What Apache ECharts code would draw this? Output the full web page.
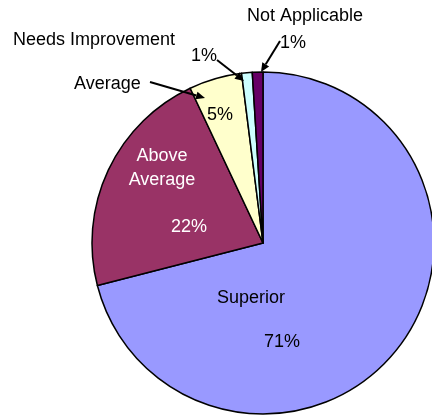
<!DOCTYPE html>
<html>
<head>
<meta charset="utf-8">
<script src="https://cdn.jsdelivr.net/npm/echarts@6/dist/echarts.min.js"></script>
<style>
  html, body { margin: 0; padding: 0; background: #fff; }
  #chart { width: 432px; height: 417px; }
</style>
</head>
<body>
<div id="chart"></div>
<script>
// Rating distribution
const categories = ['Superior', 'Above Average', 'Average', 'Needs Improvement', 'Not Applicable'];
const values = [71, 22, 5, 1, 1];
const sliceColors = ['#9999FF', '#993366', '#FFFFCC', '#CCFFFF', '#660066'];

const FONT = '"Liberation Sans", Arial, sans-serif';
const pct = i => values[i] + '%';

function txt(str, x, y, opts) {
  opts = opts || {};
  return {
    type: 'text', x: x, y: y, z: 10,
    style: {
      text: str, fill: opts.color || '#000',
      font: '18px ' + FONT,
      align: opts.align || 'center', verticalAlign: 'middle',
      lineHeight: opts.lineHeight || 20
    }
  };
}

// Leader line with a filled arrowhead at the end point
function arrow(x1, y1, x2, y2) {
  const a = Math.atan2(y2 - y1, x2 - x1);
  const L = 9, W = 4;
  const bx = x2 - L * Math.cos(a), by = y2 - L * Math.sin(a);
  const px = -Math.sin(a) * W, py = Math.cos(a) * W;
  return [
    { type: 'line', z: 10, shape: { x1: x1, y1: y1, x2: bx, y2: by },
      style: { stroke: '#000', lineWidth: 2 } },
    { type: 'polygon', z: 10,
      shape: { points: [[x2, y2], [bx + px, by + py], [bx - px, by - py]] },
      style: { fill: '#000' } }
  ];
}

const chart = echarts.init(document.getElementById('chart'));
chart.setOption({
  animation: false,
  backgroundColor: '#fff',
  series: [{
    type: 'pie',
    center: [263, 243],
    radius: 171,
    startAngle: 90,
    clockwise: true,
    label: { show: false },
    labelLine: { show: false },
    itemStyle: { borderColor: '#000', borderWidth: 1.5 },
    emphasis: { disabled: true },
    data: categories.map((c, i) => ({
      name: c, value: values[i], itemStyle: { color: sliceColors[i] }
    }))
  }],
  graphic: [
    txt(categories[4], 247, 16, { align: 'left' }),
    txt(pct(4), 293, 43),
    txt(categories[3], 13, 40, { align: 'left' }),
    txt(pct(3), 204, 56),
    txt(categories[2], 74, 84, { align: 'left' }),
    txt(pct(2), 220, 115),
    txt('Above\nAverage', 162, 168, { color: '#fff', lineHeight: 24 }),
    txt(pct(1), 189, 227, { color: '#fff' }),
    txt(categories[0], 251, 298),
    txt(pct(0), 282, 342)
  ].concat(
    arrow(150, 82, 205, 98),
    arrow(217, 60, 244, 81),
    arrow(280, 41, 261, 72)
  )
});
</script>
</body>
</html>
